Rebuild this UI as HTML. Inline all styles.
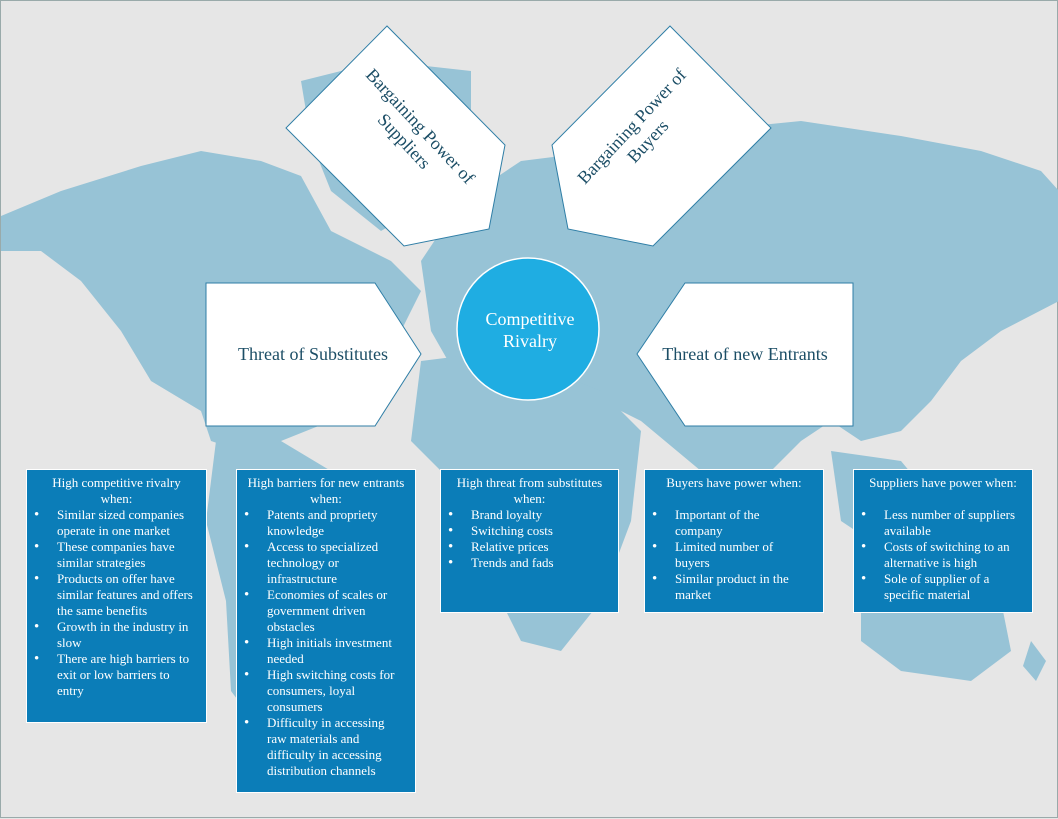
<!DOCTYPE html>
<html><head><meta charset="utf-8"><style>
body{margin:0;width:1058px;height:818px;overflow:hidden;background:#e6e6e6;font-family:"Liberation Serif",serif;}
#wrap{position:relative;width:1056px;height:816px;border:1px solid #9aa;}
svg{position:absolute;left:0;top:0}
.box{position:absolute;background:#0b7db8;border:1px solid #fff;color:#fff;font-size:13px;line-height:16px;box-sizing:border-box;padding-top:5px}
.box .h{text-align:center;padding:0 6px}
.box ul{margin:0;padding:0 10px 0 30px;list-style:none}
.box li{position:relative}
.box li:before{content:"•";position:absolute;left:-23px;font-size:15px}
</style></head><body><div id="wrap">
<svg width="1058" height="818">
<g fill="#97c3d6">
<path d="M0,215 L60,190 L140,165 L200,150 L260,160 L300,175 L330,230 L390,260 L420,290 L400,330 L380,380 L330,420 L280,440 L240,450 L210,440 L200,410 L150,380 L120,330 L80,280 L40,250 L0,250 Z"/>
<path d="M300,80 L380,60 L470,70 L470,130 L430,200 L380,230 L330,190 L310,140 Z"/>
<path d="M215,440 L280,440 L330,470 L330,520 L300,580 L270,640 L245,710 L230,690 L225,600 L205,520 Z"/>
<path d="M420,260 L460,200 L520,160 L600,150 L700,130 L800,120 L900,135 L980,150 L1040,170 L1058,190 L1058,300 L1000,330 L960,360 L930,400 L900,430 L860,440 L830,420 L800,440 L770,470 L700,470 L640,420 L600,400 L560,420 L520,420 L470,400 L430,330 Z"/>
<path d="M420,360 L500,350 L600,390 L640,430 L630,520 L600,600 L560,650 L520,640 L480,560 L450,480 L410,440 Z"/>
<path d="M830,450 L900,460 L950,520 L900,560 L840,520 Z"/>
<path d="M860,600 L940,580 L1000,600 L1010,650 L970,680 L900,670 L860,640 Z"/>
<path d="M1030,640 L1045,660 L1035,680 L1022,665 Z"/>
</g>
<g fill="#fff" stroke="#2f7ea6" stroke-width="1">
<polygon points="386,25 285,127 403,245 488,228 504,144"/>
<polygon points="669,25 770,127 652,245 567,228 551,144"/>
<polygon points="205,282 374,282 420,353 374,425 205,425"/>
<polygon points="852,282 684,282 636,353 684,425 852,425"/>
</g>
<ellipse cx="527" cy="328" rx="71" ry="71" fill="#1fade2" stroke="#fff" stroke-width="1.5"/>
<text x="529" y="324" fill="#fff" font-family="Liberation Serif" font-size="18" text-anchor="middle">Competitive</text>
<text x="529" y="346" fill="#fff" font-family="Liberation Serif" font-size="18" text-anchor="middle">Rivalry</text>
<g fill="#1c4e66" font-family="Liberation Serif" font-size="18" text-anchor="middle">
<g transform="translate(412,132) rotate(47)"><text x="0" y="-4">Bargaining Power of</text><text x="0" y="18">Suppliers</text></g>
<g transform="translate(638,132) rotate(-47)"><text x="0" y="-4">Bargaining Power of</text><text x="0" y="18">Buyers</text></g>
<text x="312" y="359">Threat of Substitutes</text>
<text x="744" y="359">Threat of new Entrants</text>
</g>
</svg>
<div class="box" style="left:25px;top:468px;width:181px;height:254px"><div class="h" style="padding:0 20px">High competitive rivalry when:</div><ul><li>Similar sized companies operate in one market</li><li>These companies have similar strategies</li><li>Products on offer have similar features and offers the same benefits</li><li>Growth in the industry in slow</li><li>There are high barriers to exit or low barriers to entry</li></ul></div>
<div class="box" style="left:235px;top:468px;width:180px;height:324px"><div class="h">High barriers for new entrants when:</div><ul><li>Patents and propriety knowledge</li><li>Access to specialized technology or infrastructure</li><li>Economies of scales or government driven obstacles</li><li>High initials investment needed</li><li>High switching costs for consumers, loyal consumers</li><li>Difficulty in accessing raw materials and difficulty in accessing distribution channels</li></ul></div>
<div class="box" style="left:439px;top:468px;width:179px;height:144px"><div class="h">High threat from substitutes when:</div><ul><li>Brand loyalty</li><li>Switching costs</li><li>Relative prices</li><li>Trends and fads</li></ul></div>
<div class="box" style="left:643px;top:468px;width:180px;height:144px"><div class="h">Buyers have power when:</div><ul style="margin-top:16px;padding-right:30px"><li>Important of the company</li><li>Limited number of buyers</li><li>Similar product in the market</li></ul></div>
<div class="box" style="left:852px;top:468px;width:180px;height:144px"><div class="h">Suppliers have power when:</div><ul style="margin-top:16px"><li>Less number of suppliers available</li><li>Costs of switching to an alternative is high</li><li>Sole of supplier of a specific material</li></ul></div>
</div></body></html>
